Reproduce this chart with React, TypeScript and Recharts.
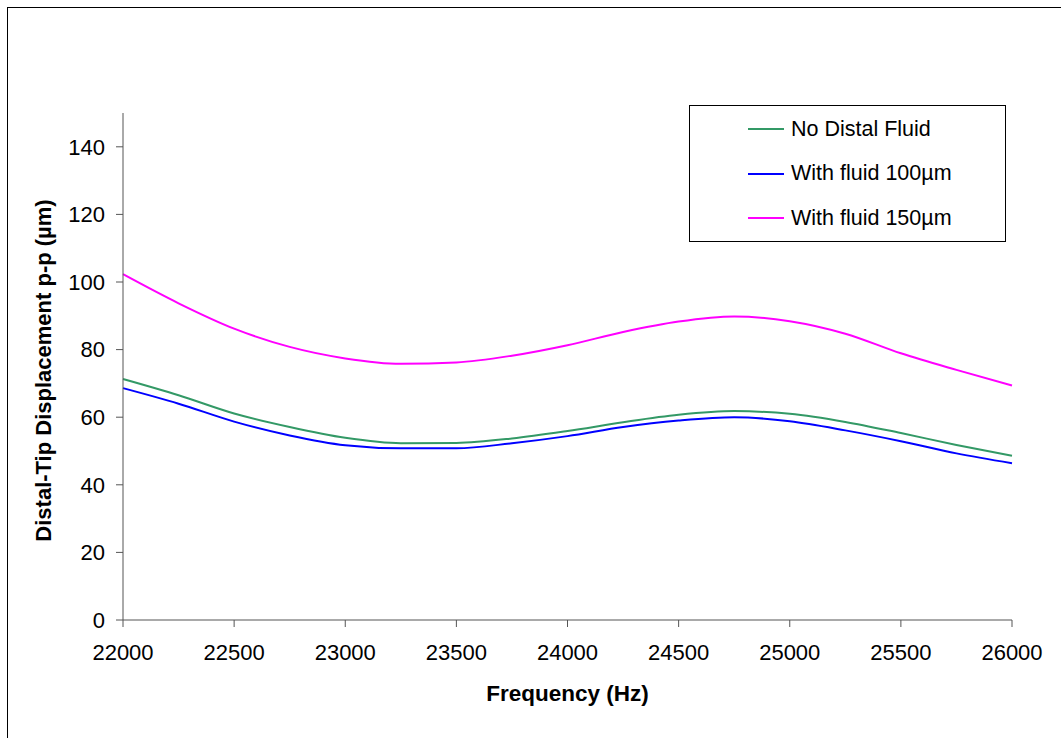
import React from "react";
import { LineChart, Line, XAxis, YAxis, Label } from "recharts";

const frequencies = [22000, 22250, 22500, 22750, 23000, 23250, 23500, 23750, 24000, 24250, 24500, 24750, 25000, 25250, 25500, 25750, 26000];
const noDistalFluid = [71.3, 66.5, 61.1, 57.1, 53.9, 52.3, 52.4, 53.7, 55.9, 58.5, 60.7, 61.8, 61.0, 58.6, 55.3, 51.8, 48.6];
const withFluid100 = [68.6, 64.0, 58.7, 54.6, 51.7, 50.8, 50.8, 52.3, 54.4, 57.1, 59.0, 60.0, 58.8, 56.1, 52.9, 49.3, 46.4];
const withFluid150 = [102.3, 93.7, 86.2, 80.8, 77.4, 75.8, 76.2, 78.2, 81.3, 85.2, 88.3, 89.8, 88.4, 84.7, 78.9, 74.0, 69.4];
const xTicks = [22000, 22500, 23000, 23500, 24000, 24500, 25000, 25500, 26000];
const yTicks = [0, 20, 40, 60, 80, 100, 120, 140];

const seriesInfo = [
  { key: "noFluid", name: "No Distal Fluid", color: "#339966" },
  { key: "fluid100", name: "With fluid 100\u00b5m", color: "#0000FF" },
  { key: "fluid150", name: "With fluid 150\u00b5m", color: "#FF00FF" },
];

const data = frequencies.map((f, i) => ({
  freq: f,
  noFluid: noDistalFluid[i],
  fluid100: withFluid100[i],
  fluid150: withFluid150[i],
}));

const FONT = "'Liberation Sans', Arial, Helvetica, sans-serif";
const Y_TITLE = "Distal-Tip Displacement p-p (\u00b5m)";

const LegendBox = () => (
  <div
    style={{
      position: "absolute",
      left: 689,
      top: 105,
      width: 317,
      height: 137,
      border: "1px solid #000",
      background: "#fff",
      boxSizing: "border-box",
      fontFamily: FONT,
      fontSize: 21.5,
      color: "#000",
    }}
  >
    {seriesInfo.map((s, i) => (
      <div key={s.key} style={{ position: "absolute", left: 58, top: 11 + i * 44.5, height: 24, display: "flex", alignItems: "center" }}>
        <div style={{ width: 36, height: 0, borderTop: `2px solid ${s.color}`, marginRight: 7 }} />
        <span style={{ whiteSpace: "nowrap" }}>{s.name}</span>
      </div>
    ))}
  </div>
);

export default function App() {
  return (
    <div style={{ position: "absolute", left: 0, top: 0, width: 1061, height: 738, overflow: "hidden", background: "#fff" }}>
      <div style={{ position: "absolute", left: 7, top: 7, width: 1100, height: 800, border: "1px solid #000" }} />
      <div style={{ position: "absolute", left: 0, top: 0 }}>
        <LineChart
          width={1061}
          height={738}
          data={data}
          margin={{ top: 113, right: 49, bottom: 58, left: 0 }}
          style={{ fontFamily: FONT }}
        >
          <XAxis
            dataKey="freq"
            type="number"
            domain={[22000, 26000]}
            ticks={xTicks}
            height={60}
            tickSize={7}
            tickMargin={17}
            stroke="#555"
            tick={{ fill: "#000", fontSize: 22, fontFamily: FONT }}
            interval={0}
          >
            <Label
              content={(props: any) => {
                const vb = props.viewBox;
                return (
                  <text x={vb.x + vb.width / 2} y={701} textAnchor="middle" fontFamily={FONT} fontSize={22.5} fontWeight="bold" fill="#000">
                    Frequency (Hz)
                  </text>
                );
              }}
            />
          </XAxis>
          <YAxis
            type="number"
            domain={[0, 150]}
            ticks={yTicks}
            width={123}
            tickSize={7}
            tickMargin={11}
            stroke="#555"
            tick={{ fill: "#000", fontSize: 22, fontFamily: FONT }}
            interval={0}
          >
            <Label
              content={(props: any) => {
                const vb = props.viewBox;
                const cy = vb.y + vb.height / 2 + 4;
                return (
                  <text
                    x={51}
                    y={cy}
                    textAnchor="middle"
                    transform={`rotate(-90, 51, ${cy})`}
                    fontFamily={FONT}
                    fontSize={22}
                    fontWeight="bold"
                    fill="#000"
                  >
                    {Y_TITLE}
                  </text>
                );
              }}
            />
          </YAxis>
          {seriesInfo.map((s) => (
            <Line
              key={s.key}
              type="monotone"
              dataKey={s.key}
              name={s.name}
              stroke={s.color}
              strokeWidth={2}
              dot={false}
              activeDot={false}
              isAnimationActive={false}
            />
          ))}
        </LineChart>
      </div>
      <LegendBox />
    </div>
  );
}
